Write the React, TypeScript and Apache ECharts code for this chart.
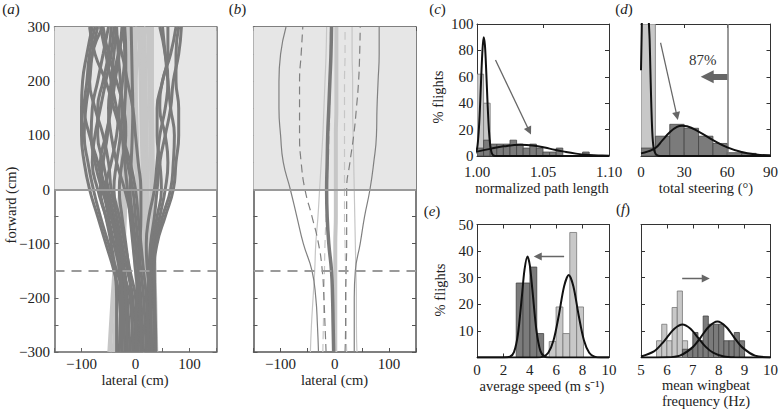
import React, { useEffect, useRef } from 'react';
import * as echarts from 'echarts';

const FONT = 'Liberation Serif';

// ---------- panel (a): individual flight tracks (lateral cm at each forward level) ----------
const trackForward = [-300, -200, -150, -100, -50, 0, 50, 100, 150, 200, 250, 300];
const darkTracks = [
  [-25, -30, -40, -55, -70, -85, -95, -100, -100, -98, -90, -80],
  [-15, -20, -35, -50, -65, -78, -88, -95, -92, -85, -80, -70],
  [-5, -10, -25, -40, -55, -70, -80, -75, -65, -55, -45, -40],
  [-30, -28, -30, -40, -50, -60, -70, -85, -95, -90, -85, -75],
  [-10, -15, -20, -30, -40, -55, -65, -55, -45, -38, -30, -25],
  [0, -5, -15, -25, -35, -45, -50, -60, -75, -85, -80, -60],
  [-20, -22, -25, -30, -40, -50, -60, -70, -70, -60, -50, -45],
  [5, 0, -10, -20, -30, -40, -35, -28, -25, -28, -32, -35],
  [-35, -35, -38, -45, -55, -65, -60, -52, -48, -42, -32, -20],
  [10, 5, 0, -5, -10, -15, -20, -25, -35, -45, -55, -65],
  [15, 10, 5, 0, -5, -10, -8, -6, -5, -6, -7, -8],
  [20, 15, 10, 5, 0, -5, -15, -22, -20, -18, -18, -20],
  [-5, -8, -12, -18, -25, -30, -25, -18, -22, -35, -50, -60],
  [35, 33, 32, 35, 45, 55, 60, 55, 45, 50, 65, 75],
  [30, 28, 30, 38, 50, 65, 70, 72, 65, 60, 55, 50],
  [25, 25, 28, 32, 40, 48, 45, 40, 40, 50, 60, 60],
  [38, 36, 35, 40, 55, 70, 75, 80, 80, 75, 75, 80],
  [20, 22, 25, 28, 35, 40, 45, 55, 65, 70, 80, 85],
  [30, 27, 22, 20, 25, 35, 40, 45, 55, 60, 55, 45],
  [25, 20, 15, 10, 5, 0, -10, -25, -40, -55, -75, -85],
  [0, 2, 5, 8, 10, 10, 5, 0, -5, -15, -25, -40],
  [-25, -25, -28, -35, -45, -55, -45, -35, -30, -24, -20, -22],
  [-15, -18, -22, -30, -45, -62, -75, -82, -80, -70, -60, -50],
  [10, 8, 5, 0, -8, -20, -35, -45, -50, -45, -40, -35],
];
const lightForward = [-300, -200, -100, 0, 100, 200, 300];
const lightTracks = [
  [-48, -42, -35, -28, -22, -18, -15],
  [-40, -35, -30, -25, -20, -12, -8],
  [-30, -26, -22, -18, -14, -8, -2],
  [15, 12, 8, 5, 2, 0, 0],
  [22, 20, 18, 15, 12, 10, 8],
  [30, 28, 25, 22, 20, 18, 16],
  [38, 36, 33, 30, 28, 26, 24],
  [35, 35, 34, 32, 31, 30, 30],
  [18, 10, 0, -10, -15, -10, -5],
  [26, 22, 14, 6, -4, -6, 4],
  [33, 30, 24, 18, 14, 14, 12],
  [10, 5, -2, -6, -8, -2, 20],
];

// ---------- panel (b): mean, s.d. and range ----------
const bForward = [-300, -250, -200, -150, -100, -50, 0, 50, 100, 150, 200, 250, 300];
const bDarkMean = [-2, -3, -4, -6, -11, -14, -15, -14, -13, -11, -9, -7, -6];
const bDarkSdL = [-16, -18, -20, -23, -30, -42, -55, -62, -65, -65, -65, -62, -59];
const bDarkSdR = [19, 20, 20, 21, 22, 22, 22, 28, 35, 40, 44, 46, 47];
const bDarkEnvL = [-30, -32, -35, -42, -58, -70, -82, -95, -100, -103, -103, -100, -90];
const bDarkEnvR = [36, 36, 36, 38, 47, 55, 65, 72, 77, 78, 80, 82, 82];
const bLightMean = [1, 1, 1, 1, 1, 2, 2, 2, 2, 3, 3, 3, 3];
const bLightSdL = [-22, -21, -20, -19, -18, -16, -14, -12, -10, -9, -8, -8, -8];
const bLightSdR = [22, 21, 21, 20, 19, 18, 18, 18, 18, 18, 18, 19, 19];
const bLightEnvL = [-45, -43, -40, -37, -35, -31, -28, -25, -22, -20, -18, -16, -15];
const bLightEnvR = [41, 40, 40, 39, 38, 37, 36, 35, 34, 33, 33, 32, 32];

// ---------- panel (c): normalized path length ----------
const cLightBins = [[1.0, 1.005, 62], [1.005, 1.01, 40]];
const cDarkBins = [
  [1.0, 1.005, 6], [1.005, 1.01, 12], [1.01, 1.015, 9], [1.015, 1.02, 9], [1.02, 1.025, 9],
  [1.025, 1.03, 12], [1.03, 1.035, 9], [1.035, 1.04, 6], [1.04, 1.045, 9], [1.045, 1.05, 6],
  [1.05, 1.055, 3], [1.055, 1.06, 3], [1.06, 1.065, 6], [1.08, 1.085, 3],
];
const cLightFit = [
  [0.998, 0.4], [1.0, 5.5], [1.001, 14.5], [1.002, 31], [1.003, 55], [1.004, 77.5], [1.005, 90],
  [1.006, 84], [1.007, 64], [1.008, 40], [1.009, 20], [1.01, 8.3], [1.011, 2.8], [1.012, 0.8],
  [1.014, 0.05], [1.03, 0], [1.1, 0],
];
const cDarkFit = [
  [1.0, 3.3], [1.01, 5.4], [1.02, 7.3], [1.033, 8.5], [1.045, 7.5], [1.055, 5.6], [1.065, 3.5],
  [1.075, 1.8], [1.085, 0.8], [1.095, 0.3], [1.1, 0.2],
];
const cArrow = [[1.014, 72.7], [1.0396, 19]];

// ---------- panel (d): total steering ----------
const dLightBins = [[0, 10, 100]];
const dDarkBins = [
  [0, 10, 6], [10, 20, 15], [20, 30, 24], [30, 40, 21], [40, 50, 15], [50, 60, 9.5],
  [60, 70, 2.5], [70, 80, 2], [80, 90, 0.8],
];
const dLightFit = [
  [0, 65], [0.5, 95], [1, 125], [3, 150], [5, 112], [5.5, 100], [6, 88], [6.5, 66], [7, 45],
  [7.5, 27], [8, 15], [8.5, 8.5], [9, 5], [10, 2], [11, 0.7], [12, 0.2], [14, 0], [90, 0],
];
const dDarkFit = [
  [0, 2], [5, 3.5], [10, 6], [15, 12], [20, 18], [25, 22], [28.5, 23], [32, 22.5], [40, 18.5],
  [50, 12], [60, 6.5], [70, 3], [80, 1.2], [90, 0.4],
];
const dArrow = [[13.6, 85.8], [25, 30.3]];
const dBigArrow = [[60, 60], [46, 60]];
const dThreshold = 60;
const dLabelPos = [43, 73];
const dLabel = '87%';

// ---------- panel (e): average speed ----------
const eDarkBins = [[2.97, 3.49, 28], [3.49, 4.01, 28], [4.01, 4.53, 34], [4.53, 5.05, 9]];
const eLightBins = [[5.47, 5.99, 6], [5.99, 6.51, 19], [6.51, 7.03, 9], [7.03, 7.55, 47], [7.55, 8.07, 19]];
const eDarkFit = [
  [0, 0], [2, 0], [2.5, 0.3], [2.8, 2], [3.1, 8.7], [3.4, 23], [3.6, 33], [3.82, 38], [4.0, 34.7],
  [4.2, 25.2], [4.5, 10.3], [4.8, 2.5], [5.1, 0.4], [5.5, 0], [10, 0],
];
const eLightFit = [
  [0, 0], [4.5, 0], [5.0, 0.35], [5.4, 1.8], [5.8, 6.5], [6.2, 15.9], [6.6, 26.8], [6.95, 31],
  [7.3, 26.8], [7.7, 15.9], [8.1, 6.5], [8.5, 1.8], [8.9, 0.35], [9.4, 0], [10, 0],
];
const eArrow = [[6.6, 38], [4.6, 38]];

// ---------- panel (f): mean wingbeat frequency ----------
const fLightBins = [
  [5.6, 5.8, 6.3], [5.8, 6.0, 12.5], [6.0, 6.2, 6.3], [6.2, 6.4, 18.8], [6.4, 6.6, 25], [6.6, 6.8, 6.3],
];
const fDarkBins = [
  [6.6, 6.8, 3.1], [6.8, 7.0, 3.1], [7.0, 7.2, 9.4], [7.2, 7.4, 6.3], [7.4, 7.6, 15.6], [7.6, 7.8, 12.5],
  [7.8, 8.0, 12.5], [8.0, 8.2, 12.5], [8.2, 8.4, 6.3], [8.4, 8.6, 6.3], [8.6, 8.8, 9.4], [8.8, 9.0, 6.3],
];
const fLightFit = [
  [5.0, 0.35], [5.5, 2.3], [5.8, 5.1], [6.0, 7.5], [6.3, 10.9], [6.6, 12.4], [6.9, 10.9], [7.2, 7.5],
  [7.5, 4.0], [7.8, 1.7], [8.2, 0.35], [8.6, 0.05], [10, 0],
];
const fDarkFit = [
  [5.0, 0], [6.0, 0.07], [6.5, 0.7], [7.0, 3.9], [7.3, 7.5], [7.6, 11.4], [7.95, 13.5], [8.3, 11.4],
  [8.6, 7.5], [8.9, 3.9], [9.4, 0.7], [10, 0.04],
];
const fArrow = [[6.59, 29.7], [7.5, 29.7]];

// ---------- layout ----------
const grids = [
  { left: 54.5, top: 27, width: 162, height: 325 },
  { left: 253.5, top: 27, width: 162.5, height: 325 },
  { left: 477, top: 24, width: 132, height: 132 },
  { left: 641, top: 24, width: 132, height: 132 },
  { left: 477, top: 224.5, width: 132, height: 133 },
  { left: 641, top: 224.5, width: 132, height: 133 },
];

const minus = (v: number | string) => String(v).replace('-', '\u2212');

type AxCfg = { min: number; max: number; interval: number; show: boolean; margin: number; fmt?: (v: number) => string };

function makeAxes(gi: number, xc: AxCfg, yc: AxCfg, color: string, lw: number) {
  const common = (c: AxCfg, showLabel: boolean, position: string) => ({
    type: 'value',
    gridIndex: gi,
    min: c.min,
    max: c.max,
    interval: c.interval,
    position,
    axisLine: { show: true, onZero: false, lineStyle: { color, width: lw } },
    axisTick: { show: true, inside: true, length: 4, lineStyle: { color, width: 1 } },
    splitLine: { show: false },
    axisLabel: {
      show: showLabel,
      margin: c.margin,
      fontFamily: FONT,
      fontSize: 15,
      color: '#222',
      showMinLabel: true,
      showMaxLabel: true,
      formatter: c.fmt ? c.fmt : (v: number) => minus(v),
    },
  });
  return {
    x: [common(xc, xc.show, 'bottom'), common(xc, false, 'top')],
    y: [common(yc, yc.show, 'left'), common(yc, false, 'right')],
  };
}

const hundreds = (v: number) => (Math.round(v) % 100 === 0 ? minus(v) : '');

const axisCfgs: [AxCfg, AxCfg, string, number][] = [
  [{ min: -150, max: 150, interval: 50, show: true, margin: 4, fmt: hundreds }, { min: -300, max: 300, interval: 50, show: true, margin: 4.5, fmt: hundreds }, '#666', 1.5],
  [{ min: -150, max: 150, interval: 50, show: true, margin: 4, fmt: hundreds }, { min: -300, max: 300, interval: 50, show: false, margin: 4 }, '#555', 1.5],
  [{ min: 1.0, max: 1.1, interval: 0.05, show: true, margin: 8, fmt: (v) => v.toFixed(2) }, { min: 0, max: 100, interval: 20, show: true, margin: 3.5 }, '#333', 1],
  [{ min: 0, max: 90, interval: 30, show: true, margin: 8 }, { min: 0, max: 100, interval: 20, show: false, margin: 4 }, '#333', 1],
  [{ min: 0, max: 10, interval: 2, show: true, margin: 4.5 }, { min: 0, max: 50, interval: 10, show: true, margin: 3.5, fmt: (v) => (v === 0 ? '' : String(v)) }, '#333', 1],
  [{ min: 5, max: 10, interval: 1, show: true, margin: 4.5 }, { min: 0, max: 50, interval: 10, show: false, margin: 4 }, '#333', 1],
];

const DARK = '#7a7a7a';
const LIGHT = '#c6c6c6';

function lineSeries(gi: number, data: number[][], color: string, width: number, type: any = 'solid', z = 3, smooth: any = true) {
  return {
    type: 'line',
    xAxisIndex: 2 * gi,
    yAxisIndex: 2 * gi,
    data,
    smooth,
    symbol: 'none',
    showSymbol: false,
    clip: true,
    silent: true,
    z,
    lineStyle: { color, width, type },
  };
}

function track(lats: number[], levels: number[]) {
  return lats.map((x, i) => [x, levels[i]]);
}

function histSeries(gi: number, bins: number[][], fill: string, stroke: string, z: number) {
  return {
    type: 'custom',
    xAxisIndex: 2 * gi,
    yAxisIndex: 2 * gi,
    data: bins,
    encode: { x: [0, 1], y: 2 },
    clip: true,
    silent: true,
    z,
    renderItem: (params: any, api: any) => {
      const a = api.coord([api.value(0), api.value(2)]);
      const b = api.coord([api.value(1), 0]);
      return {
        type: 'rect',
        shape: { x: a[0], y: a[1], width: b[0] - a[0], height: b[1] - a[1] },
        style: { fill, stroke, lineWidth: 0.8 },
      };
    },
  };
}

function arrowSeries(gi: number, coords: number[][], width: number, size: number[]) {
  return {
    type: 'lines',
    coordinateSystem: 'cartesian2d',
    xAxisIndex: 2 * gi,
    yAxisIndex: 2 * gi,
    silent: true,
    z: 9,
    polyline: false,
    symbol: ['none', 'triangle'],
    symbolSize: size,
    effect: { show: false },
    lineStyle: { color: '#666', width, opacity: 1, curveness: 0 },
    data: [{ coords }],
  };
}

function refSeries(gi: number) {
  return [
    {
      type: 'line', xAxisIndex: 2 * gi, yAxisIndex: 2 * gi, data: [], z: 1, silent: true,
      markArea: { silent: true, itemStyle: { color: '#e6e6e6' }, data: [[{ yAxis: 0 }, { yAxis: 300 }]] },
    },
    {
      type: 'line', xAxisIndex: 2 * gi, yAxisIndex: 2 * gi, data: [], z: 7, silent: true,
      markLine: {
        silent: true, symbol: ['none', 'none'], label: { show: false },
        data: [
          { yAxis: 0, lineStyle: { color: '#9a9a9a', width: 2, type: 'solid' } },
          { yAxis: -150, lineStyle: { color: '#9a9a9a', width: 2, type: [10, 7] } },
        ],
      },
    },
  ];
}

function textEl(x: number, y: number, text: string, rotation = 0, extra: any = {}) {
  return {
    type: 'text', x, y, rotation, silent: true,
    style: { text, fontFamily: FONT, fontSize: 14.5, fill: '#222', align: 'center', verticalAlign: 'middle', ...extra },
  };
}

function panelLabel(x: number, y: number, letter: string) {
  return textEl(x, y, `({i|${letter}})`, 0, {
    fontSize: 15,
    rich: { i: { fontStyle: 'italic', fontFamily: FONT, fontSize: 15, fill: '#222' } },
  });
}

export default function App() {
  const ref = useRef<HTMLDivElement>(null);
  useEffect(() => {
    if (!ref.current) return;
    const chart = echarts.init(ref.current, undefined, { renderer: 'svg' });
    const xAxis: any[] = [];
    const yAxis: any[] = [];
    axisCfgs.forEach(([xc, yc, col, lw], gi) => {
      const ax = makeAxes(gi, xc, yc, col, lw);
      xAxis.push(...ax.x);
      yAxis.push(...ax.y);
    });

    const series: any[] = [];
    // (a)
    series.push(...refSeries(0));
    lightTracks.forEach((t) => series.push(lineSeries(0, track(t, lightForward), LIGHT, 4.5, 'solid', 2)));
    darkTracks.forEach((t) => series.push(lineSeries(0, track(t, trackForward), DARK, 3, 'solid', 3)));
    // (b)
    series.push(...refSeries(1));
    series.push(lineSeries(1, track(bLightEnvL, bForward), LIGHT, 1.2, 'solid', 3));
    series.push(lineSeries(1, track(bLightEnvR, bForward), LIGHT, 1.2, 'solid', 3));
    series.push(lineSeries(1, track(bLightSdL, bForward), LIGHT, 1.2, [8, 5], 3));
    series.push(lineSeries(1, track(bLightSdR, bForward), LIGHT, 1.2, [8, 5], 3));
    series.push(lineSeries(1, track(bLightMean, bForward), LIGHT, 4, 'solid', 3));
    series.push(lineSeries(1, track(bDarkEnvL, bForward), '#808080', 1.2, 'solid', 4));
    series.push(lineSeries(1, track(bDarkEnvR, bForward), '#808080', 1.2, 'solid', 4));
    series.push(lineSeries(1, track(bDarkSdL, bForward), '#808080', 1.2, [8, 5], 4));
    series.push(lineSeries(1, track(bDarkSdR, bForward), '#808080', 1.2, [8, 5], 4));
    series.push(lineSeries(1, track(bDarkMean, bForward), DARK, 3.5, 'solid', 4));
    // (c)
    series.push(histSeries(2, cLightBins, '#c8c8c8', '#777', 2));
    series.push(histSeries(2, cDarkBins, '#7b7b7b', '#444', 3));
    series.push(lineSeries(2, cLightFit, '#111', 2, 'solid', 5, 0.3));
    series.push(lineSeries(2, cDarkFit, '#111', 2, 'solid', 5));
    series.push(arrowSeries(2, cArrow, 1.3, [5, 8]));
    // (d)
    series.push({
      type: 'line', xAxisIndex: 6, yAxisIndex: 6, data: [], z: 1, silent: true,
      markLine: {
        silent: true, symbol: ['none', 'none'], label: { show: false },
        data: [{ xAxis: dThreshold, lineStyle: { color: '#777', width: 1.5, type: 'solid' } }],
      },
      markPoint: {
        silent: true, symbol: 'circle', symbolSize: 0,
        label: { show: true, position: 'inside', formatter: dLabel, fontFamily: FONT, fontSize: 15, color: '#333' },
        data: [{ coord: dLabelPos }],
      },
    });
    series.push(histSeries(3, dLightBins, '#c8c8c8', '#777', 2));
    series.push(histSeries(3, dDarkBins, '#7b7b7b', '#444', 3));
    series.push(lineSeries(3, dLightFit, '#111', 2, 'solid', 5, 0.3));
    series.push(lineSeries(3, dDarkFit, '#111', 2, 'solid', 5));
    series.push(arrowSeries(3, dArrow, 1.2, [5, 8]));
    series.push(arrowSeries(3, dBigArrow, 6, [14, 13]));
    // (e)
    series.push(histSeries(4, eLightBins, '#c8c8c8', '#777', 2));
    series.push(histSeries(4, eDarkBins, '#7b7b7b', '#444', 3));
    series.push(lineSeries(4, eDarkFit, '#111', 2, 'solid', 5, 0.3));
    series.push(lineSeries(4, eLightFit, '#111', 2, 'solid', 5, 0.3));
    series.push(arrowSeries(4, eArrow, 1.3, [5, 8]));
    // (f)
    series.push(histSeries(5, fLightBins, '#c8c8c8', '#777', 2));
    series.push(histSeries(5, fDarkBins, '#7b7b7b', '#444', 3));
    series.push(lineSeries(5, fLightFit, '#111', 2, 'solid', 5, 0.3));
    series.push(lineSeries(5, fDarkFit, '#111', 2, 'solid', 5, 0.3));
    series.push(arrowSeries(5, fArrow, 1.3, [5, 8]));

    const graphic: any[] = [
      panelLabel(11, 9, 'a'),
      panelLabel(237.5, 9, 'b'),
      panelLabel(437.5, 8.5, 'c'),
      panelLabel(624, 9, 'd'),
      panelLabel(432, 211, 'e'),
      panelLabel(623, 209, 'f'),
      textEl(11, 205, 'forward (cm)', Math.PI / 2),
      textEl(135, 380, 'lateral (cm)'),
      textEl(334.5, 380, 'lateral (cm)'),
      textEl(438, 97, '% flights', Math.PI / 2),
      textEl(440, 290, '% flights', Math.PI / 2),
      textEl(542, 188, 'normalized path length'),
      textEl(706, 188, 'total steering (°)'),
      textEl(542, 386, 'average speed (m s\u207B\u00B9)'),
      textEl(706, 385, 'mean wingbeat'),
      textEl(706, 401, 'frequency (Hz)'),
    ];

    chart.setOption({
      animation: false,
      backgroundColor: '#ffffff',
      textStyle: { fontFamily: FONT },
      grid: grids.map((g) => ({ ...g, containLabel: false })),
      xAxis,
      yAxis,
      series,
      graphic,
    });
    return () => chart.dispose();
  }, []);
  return <div ref={ref} style={{ position: 'fixed', left: 0, top: 0, width: 781, height: 409 }} />;
}
